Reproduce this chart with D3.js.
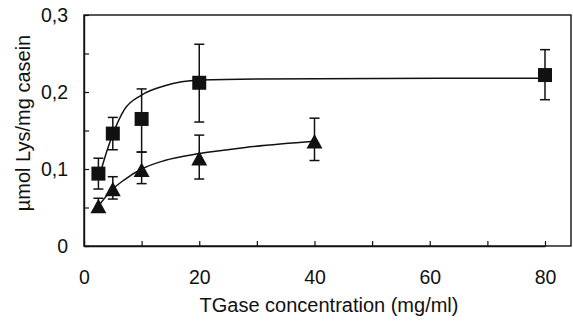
<!DOCTYPE html>
<html>
<head>
<meta charset="utf-8">
<script src="https://cdn.jsdelivr.net/npm/d3@7"></script>
<style>
  body { margin: 0; background: #fff; }
  svg { display: block; }
  text { font-family: "Liberation Sans", Arial, Helvetica, sans-serif; fill: #111; }
</style>
</head>
<body>
<svg width="573" height="323"></svg>
<script>
// squares series (mean, lower and upper error bar)
const sqX  = [2.5, 5, 10, 20, 80]
const sqY  = [0.094, 0.146, 0.165, 0.212, 0.222]
const sqLo = [0.074, 0.125, 0.122, 0.161, 0.190]
const sqHi = [0.114, 0.167, 0.204, 0.262, 0.255]

// triangles series
const trX  = [2.5, 5, 10, 20, 40]
const trY  = [0.052, 0.074, 0.099, 0.114, 0.136]
const trLo = [0.045, 0.061, 0.081, 0.087, 0.111]
const trHi = [0.062, 0.090, 0.122, 0.144, 0.166]

// fitted curves
const sqFitX = [2.5, 3.5, 5, 7, 10, 14, 20, 30, 80]
const sqFitY = [0.086, 0.112, 0.145, 0.177, 0.196, 0.208, 0.2155, 0.217, 0.218]
const trFitX = [2.5, 5, 7, 10, 14, 20, 28, 40]
const trFitY = [0.052, 0.074, 0.086, 0.100, 0.111, 0.120, 0.128, 0.136]

const xTicks = [0, 10, 20, 30, 40, 50, 60, 70, 80]
const yTicks = [0, 0.05, 0.1, 0.15, 0.2, 0.25, 0.3]

const svg = d3.select("svg")

const x = d3.scaleLinear().domain([0, 80]).range([84, 545])
const y = d3.scaleLinear().domain([0, 0.3]).range([246, 15])

// frame
svg.append("rect")
  .attr("x", 84).attr("y", 15)
  .attr("width", 571 - 84).attr("height", 246 - 15)
  .attr("fill", "none").attr("stroke", "#111").attr("stroke-width", 1.4)

// axes with inward ticks
const xAxis = d3.axisBottom(x)
  .tickValues(xTicks)
  .tickSizeInner(-5).tickSizeOuter(0)
  .tickPadding(24)
  .tickFormat(d => d % 20 === 0 ? d : "")
const xg = svg.append("g").attr("transform", "translate(0,246)").call(xAxis)

const yAxis = d3.axisLeft(y)
  .tickValues(yTicks)
  .tickSizeInner(-5).tickSizeOuter(0)
  .tickPadding(16)
  .tickFormat(d => Math.round(d * 100) % 10 === 0 ? String(d).replace(".", ",") : "")
const yg = svg.append("g").attr("transform", "translate(84,0)").call(yAxis)

for (const g of [xg, yg]) {
  g.select(".domain").attr("stroke", "#111").attr("stroke-width", 1.4)
  g.selectAll(".tick line").attr("stroke", "#111").attr("stroke-width", 1.2)
  g.selectAll("text").attr("font-size", 19.5).attr("fill", "#111")
    .style("font-family", '"Liberation Sans", Arial, sans-serif')
}

// axis titles
svg.append("text")
  .attr("x", 329).attr("y", 312)
  .attr("text-anchor", "middle").attr("font-size", 20)
  .text("TGase concentration (mg/ml)")

svg.append("text")
  .attr("transform", "translate(30,123) rotate(-90)")
  .attr("text-anchor", "middle").attr("font-size", 20)
  .text("\u00b5mol Lys/mg casein")

// fitted curves
const line = d3.line()
  .x(d => x(d[0]))
  .y(d => y(d[1]))
  .curve(d3.curveMonotoneX)

svg.append("path")
  .datum(d3.zip(sqFitX, sqFitY))
  .attr("fill", "none").attr("stroke", "#111").attr("stroke-width", 1.5)
  .attr("d", line)
svg.append("path")
  .datum(d3.zip(trFitX, trFitY))
  .attr("fill", "none").attr("stroke", "#111").attr("stroke-width", 1.5)
  .attr("d", line)

// error bars
function errorBars(xs, lo, hi) {
  const g = svg.append("g").attr("stroke", "#111").attr("stroke-width", 1.5)
  xs.forEach((v, i) => {
    g.append("line").attr("x1", x(v)).attr("x2", x(v)).attr("y1", y(lo[i])).attr("y2", y(hi[i]))
    for (const e of [lo[i], hi[i]]) {
      g.append("line").attr("x1", x(v) - 5).attr("x2", x(v) + 5).attr("y1", y(e)).attr("y2", y(e))
    }
  })
}
errorBars(sqX, sqLo, sqHi)
errorBars(trX, trLo, trHi)

// markers
const square = d3.symbol().type(d3.symbolSquare).size(196)
svg.append("g").selectAll("path")
  .data(d3.zip(sqX, sqY))
  .join("path")
  .attr("transform", d => `translate(${x(d[0])},${y(d[1])})`)
  .attr("d", square)
  .attr("fill", "#111")

const triangleType = {
  draw(ctx, size) {
    const w = Math.sqrt(size) * 0.55, h = Math.sqrt(size) * 0.5
    ctx.moveTo(0, -h)
    ctx.lineTo(w, h)
    ctx.lineTo(-w, h)
    ctx.closePath()
  }
}
svg.append("g").selectAll("path")
  .data(d3.zip(trX, trY))
  .join("path")
  .attr("transform", d => `translate(${x(d[0])},${y(d[1])})`)
  .attr("d", d3.symbol().type(triangleType).size(210))
  .attr("fill", "#111")
</script>
</body>
</html>
